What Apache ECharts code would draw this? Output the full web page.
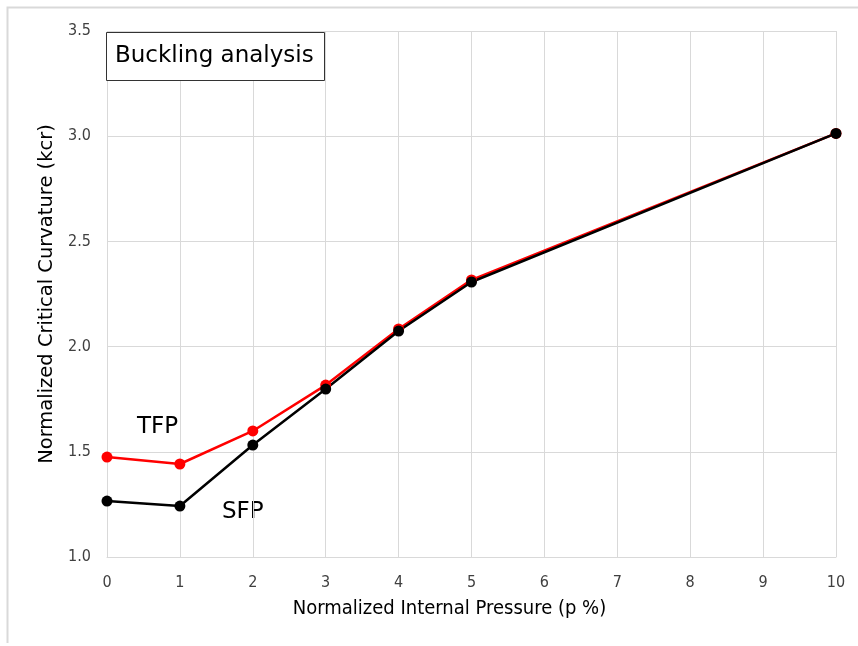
<!DOCTYPE html>
<html>
<head>
<meta charset="utf-8">
<script src="https://cdn.jsdelivr.net/npm/echarts@6/dist/echarts.min.js"></script>
<style>
  html, body { margin: 0; padding: 0; background: #fff; }
  #chart { width: 858px; height: 646px; }
</style>
</head>
<body>
<div id="chart"></div>
<script>
// Normalized internal pressure (p %)
const pressure = [0, 1, 2, 3, 4, 5, 10];
// Normalized critical curvature for each configuration
const tfpCurvature = [1.475, 1.442, 1.599, 1.817, 2.084, 2.317, 3.013];
const sfpCurvature = [1.266, 1.242, 1.532, 1.798, 2.074, 2.307, 3.013];

const xTicks = [0, 1, 2, 3, 4, 5, 6, 7, 8, 9, 10];
const yTicks = [1.0, 1.5, 2.0, 2.5, 3.0, 3.5];

const pairs = (xs, ys) => xs.map((x, i) => [x, ys[i]]);

const chart = echarts.init(document.getElementById('chart'));

const tickFont = '"Liberation Sans Narrow", "DejaVu Sans Condensed", "Liberation Sans", sans-serif';
const textFont = '"DejaVu Sans", Verdana, sans-serif';

chart.setOption({
  animation: false,
  backgroundColor: '#fff',
  title: {
    text: 'Buckling analysis',
    left: 106,
    top: 32,
    padding: [13, 11, 13, 9],
    borderColor: '#333',
    borderWidth: 1,
    backgroundColor: '#fff',
    textStyle: { fontFamily: textFont, fontSize: 23, fontWeight: 'normal', color: '#000' }
  },
  grid: { left: 107, right: 22, top: 31, bottom: 89 },
  xAxis: {
    type: 'value',
    min: 0, max: 10, interval: 1,
    name: 'Normalized Internal Pressure (p %)',
    nameLocation: 'middle',
    nameGap: 42,
    nameTextStyle: { fontFamily: tickFont, fontSize: 20, color: '#000', padding: [0, 44, 0, 0] },
    axisLine: { show: true, lineStyle: { color: '#d9d9d9', width: 1 } },
    axisTick: { show: false },
    axisLabel: {
      margin: 18, fontFamily: tickFont, fontSize: 16, color: '#404040',
      formatter: v => xTicks.includes(v) ? String(v) : ''
    },
    splitLine: { show: true, lineStyle: { color: '#d9d9d9', width: 1 } }
  },
  yAxis: {
    type: 'value',
    min: 1.0, max: 3.5, interval: 0.5,
    name: 'Normalized Critical Curvature (kcr)',
    nameLocation: 'middle',
    nameGap: 50,
    nameTextStyle: { fontFamily: textFont, fontSize: 19.5, color: '#000' },
    axisLine: { show: false },
    axisTick: { show: false },
    axisLabel: {
      margin: 16, fontFamily: tickFont, fontSize: 16, color: '#404040',
      formatter: v => yTicks.some(t => Math.abs(t - v) < 1e-9) ? v.toFixed(1) : ''
    },
    splitLine: { show: true, lineStyle: { color: '#d9d9d9', width: 1 } }
  },
  graphic: [
    {
      type: 'polyline',
      shape: { points: [[7.5, 643], [7.5, 7.5], [858, 7.5]] },
      style: { fill: 'none', stroke: '#d9d9d9', lineWidth: 2 },
      silent: true, z: -10
    },
    {
      type: 'text', left: 137, top: 416,
      style: { text: 'TFP', fontFamily: textFont, fontSize: 23, fill: '#000' }
    },
    {
      type: 'text', left: 222, top: 501,
      style: { text: 'SFP', fontFamily: textFont, fontSize: 23, fill: '#000' }
    }
  ],
  series: [
    {
      name: 'TFP', type: 'line', data: pairs(pressure, tfpCurvature),
      symbol: 'circle', symbolSize: 11,
      lineStyle: { color: '#ff0000', width: 2.5 },
      itemStyle: { color: '#ff0000' }
    },
    {
      name: 'SFP', type: 'line', data: pairs(pressure, sfpCurvature),
      symbol: 'circle', symbolSize: 11,
      lineStyle: { color: '#000000', width: 2.5 },
      itemStyle: { color: '#000000' }
    }
  ]
});
</script>
</body>
</html>
